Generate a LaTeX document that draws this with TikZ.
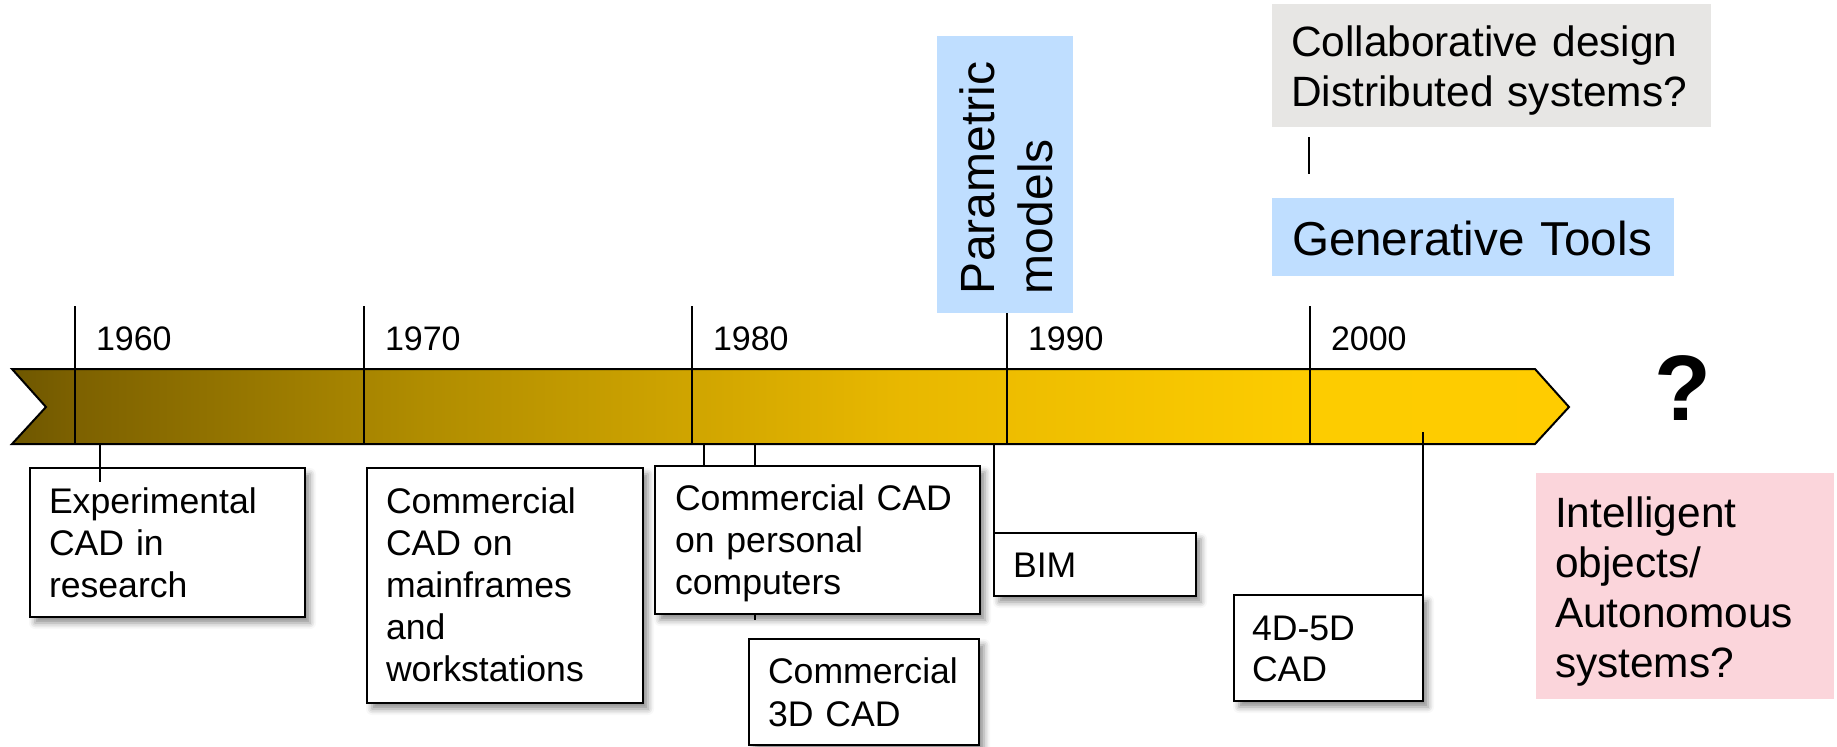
\documentclass[tikz,border=0pt]{standalone}
\usepackage{fontspec}
\setmainfont{Liberation Sans}
\usetikzlibrary{shadows.blur}
\definecolor{pblue}{RGB}{191,222,255}
\definecolor{pgray}{RGB}{231,230,228}
\definecolor{ppink}{RGB}{251,213,219}
\pgfdeclarehorizontalshading{bandshade}{100bp}{rgb(0bp)=(0.43,0.34,0); rgb(25bp)=(0.43,0.34,0); rgb(27bp)=(0.49,0.38,0); rgb(38.1bp)=(0.69,0.55,0); rgb(53.5bp)=(0.91,0.72,0); rgb(66.4bp)=(0.99,0.80,0); rgb(75bp)=(1,0.8,0); rgb(100bp)=(1,0.8,0)}
\begin{document}
\begin{tikzpicture}[x=1pt,y=-1pt,
  every node/.style={inner sep=0pt, outer sep=0pt},
  box/.style={draw=black, line width=2.5pt, fill=white, anchor=north west,
    blur shadow={shadow xshift=5pt,shadow yshift=-6pt,shadow blur radius=6pt,shadow opacity=45}},
  flat/.style={anchor=north west},
  txt/.style={anchor=base west, align=left, text width=#1},
  f35/.style={font=\fontsize{35.6}{42}\selectfont},
  f42/.style={font=\fontsize{42.4}{50}\selectfont},
  link/.style={line width=2pt, draw=black},
]
\useasboundingbox (0,0) rectangle (1837,747);

% time band
\shadedraw[shading=bandshade, line width=2pt, line join=miter]
  (12,369) -- (1535,369) -- (1569,407) -- (1535,444) -- (12,444) -- (46,407) -- cycle;

% year ticks and labels
\foreach \x/\t/\yr in {75/306/1960, 364/306/1970, 692/306/1980, 1007/313/1990, 1310/306/2000}{
  \coordinate (top\yr) at (\x,\t);
  \coordinate (bot\yr) at (\x,444);
  \draw[link] (top\yr) -- (bot\yr);
  \node[anchor=base west, font=\fontsize{34}{40}\selectfont] (lab\yr) at (\x+21,350) {\yr};
}

% upper boxes
\node[flat, fill=pblue, minimum width=136pt, minimum height=277pt] (param) at (937,36) {};
\node[rotate=90, anchor=base west, align=left, text width=250pt, font=\fontsize{48}{58}\selectfont] (paramtxt) at (994,294) {Parametric\\models};

\node[flat, fill=pgray, minimum width=439pt, minimum height=123pt] (collab) at (1272,4) {};
\node[txt=420pt, f42] (collabtxt) at (1291,56) {Collaborative design\\Distributed systems?};

\node[flat, fill=pblue, minimum width=402pt, minimum height=78pt] (gen) at (1272,198) {};
\node[txt=400pt, font=\fontsize{47.6}{54}\selectfont] (gentxt) at (1292,255) {Generative Tools};

\coordinate (cg1) at (1309,137);
\coordinate (cg2) at (1309,174);
\draw[link] (cg1) -- (cg2);

% connector hidden behind box 3
\coordinate (c3d1) at (755,444);
\coordinate (c3d2) at (755,620);
\draw[link] (c3d1) -- (c3d2);

% lower boxes
\node[box, minimum width=275pt, minimum height=149pt] (b1) at (30,468) {};
\node[txt=260pt, f35] (b1t) at (49,513) {Experimental\\CAD in\\research};

\node[box, minimum width=276pt, minimum height=235pt] (b2) at (367,468) {};
\node[txt=260pt, f35] (b2t) at (386,513) {Commercial\\CAD on\\mainframes\\and\\workstations};

\node[box, minimum width=325pt, minimum height=148pt] (b3) at (655,466) {};
\node[txt=310pt, f35] (b3t) at (675,510) {Commercial CAD\\on personal\\computers};

\node[box, minimum width=230pt, minimum height=106pt] (b4) at (749,639) {};
\node[txt=220pt, font=\fontsize{35.6}{43}\selectfont] (b4t) at (768,683) {Commercial\\3D CAD};

\node[box, minimum width=202pt, minimum height=63pt] (bim) at (994,533) {};
\node[txt=180pt, f35] (bimt) at (1013,577) {BIM};

\node[box, minimum width=189pt, minimum height=106pt] (b45) at (1234,595) {};
\node[txt=180pt, font=\fontsize{35.6}{41}\selectfont] (b45t) at (1252,640) {4D-5D\\CAD};

\node[flat, fill=ppink, minimum width=298pt, minimum height=226pt] (pink) at (1536,473) {};
\node[txt=290pt, f42] (pinkt) at (1555,527) {Intelligent\\objects/\\Autonomous\\systems?};

% question mark
\node[font=\fontsize{93}{100}\selectfont\bfseries] (qm) at (1683,388) {?};

% connectors from band to boxes
\coordinate (c1a) at (100,444);
\coordinate (c1b) at (100,482);
\draw[link] (c1a) -- (c1b);
\draw[link] (b2.north west -| 428,444) -- (b2.north west -| 428,468);
\draw[link] (704,444) -- (b3.north west -| 704,0);
\draw[link] (994,444) -- (bim.north west);
\coordinate (c45a) at (1423,432);
\draw[link] (c45a) -- (b45.north east);
\end{tikzpicture}
\end{document}
